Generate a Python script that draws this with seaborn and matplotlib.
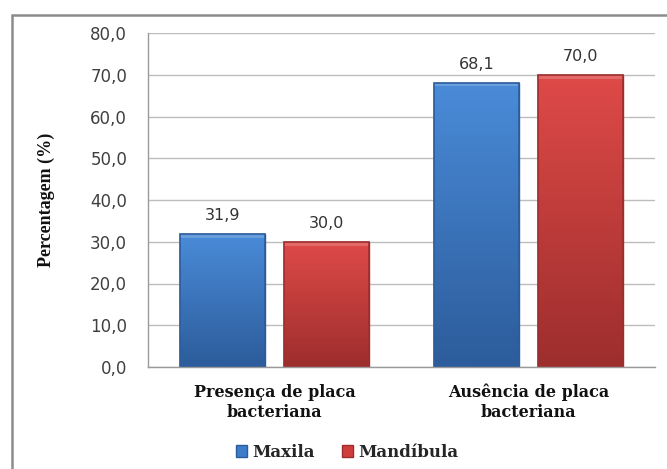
import numpy as np
import pandas as pd
import matplotlib
matplotlib.use("Agg")
import matplotlib.pyplot as plt
import matplotlib.patches as mpatches
from matplotlib.lines import Line2D
from matplotlib.colors import LinearSegmentedColormap
import seaborn as sns

categories = ["Presença de placa\nbacteriana", "Ausência de placa\nbacteriana"]
series = ["Maxila", "Mandíbula"]
maxila = [31.9, 68.1]
mandibula = [30.0, 70.0]
yticks = [0, 10, 20, 30, 40, 50, 60, 70, 80]

df = pd.DataFrame({
    "categoria": categories * 2,
    "grupo": [series[0]] * 2 + [series[1]] * 2,
    "valor": maxila + mandibula,
})

sns.set_theme(style="white")
plt.rcParams["font.family"] = ["DejaVu Sans"]

base = {"Maxila": "#3d7cc9", "Mandíbula": "#cf3d3c"}
grad = {
    "Maxila": ("#4a8bd8", "#2c5c9b"),
    "Mandíbula": ("#de4a48", "#9d2e2d"),
}

fig = plt.figure(figsize=(6.67, 4.69), dpi=100)
ax = fig.add_axes([148 / 667, 1 - 367 / 469, (655 - 148) / 667, (367 - 33) / 469])

sns.barplot(data=df, x="categoria", y="valor", hue="grupo", order=categories,
            hue_order=series, palette=base, width=0.82, gap=0.183,
            saturation=1, ax=ax, legend=False)

ax.set_xlim(-0.5, 1.5)
ax.set_ylim(0, 80)
ax.set_yticks(yticks)
ax.set_yticklabels([f"{v:.1f}".replace(".", ",") for v in yticks],
                   fontsize=12, color="#404040")
ax.tick_params(axis="y", length=0, pad=15)
ax.tick_params(axis="x", length=0, pad=12)
ax.set_xticks(range(len(categories)))
ax.set_xticklabels(categories, family="DejaVu Serif", fontweight="bold",
                   fontsize=11.5, color="#111111", linespacing=1.25)
ax.yaxis.grid(True, color="#bdbdbd", linewidth=1)
ax.set_axisbelow(True)
for side in ["top", "right"]:
    ax.spines[side].set_visible(False)
for side in ["left", "bottom"]:
    ax.spines[side].set_color("#9a9a9a")
    ax.spines[side].set_linewidth(1)
ax.set_xlabel("")
ax.set_ylabel("Percentagem (%)", family="Liberation Serif", fontweight="bold",
              fontsize=13, color="#111111", labelpad=25)

# vertical gradient fill with a darker rim and a light top bevel on each bar
bars = [p for p in ax.patches if isinstance(p, mpatches.Rectangle)]
for i, bar in enumerate(bars):
    name = series[i // len(categories)]
    top, bottom = grad[name]
    cmap = LinearSegmentedColormap.from_list(name, [bottom, top])
    x0, y0 = bar.get_x(), bar.get_y()
    w, h = bar.get_width(), bar.get_height()
    img = ax.imshow(np.linspace(0, 1, 100).reshape(-1, 1), cmap=cmap,
                    extent=[x0, x0 + w, y0, y0 + h], origin="lower",
                    aspect="auto", zorder=bar.get_zorder() + 0.1)
    img.set_clip_path(bar)
    ax.add_patch(mpatches.Rectangle((x0, y0 + h - 0.9), w, 0.9, facecolor="white",
                                    alpha=0.18, linewidth=0,
                                    zorder=bar.get_zorder() + 0.15))
    bar.set_edgecolor(bottom)
    bar.set_linewidth(1)
    ax.add_patch(mpatches.Rectangle((x0, y0), w, h, fill=False,
                                    edgecolor=bottom, linewidth=1.2,
                                    zorder=bar.get_zorder() + 0.2))

for container in ax.containers:
    ax.bar_label(container, labels=[f"{v:.1f}".replace(".", ",") for v in container.datavalues],
                 padding=8, fontsize=11.5, color="#333333")

ax.set_xlim(-0.5, 1.5)
ax.set_ylim(0, 80)

handles = [mpatches.Patch(facecolor=base[s], edgecolor=grad[s][1], label=s) for s in series]
fig.legend(handles=handles, loc="center", bbox_to_anchor=(347 / 667, 1 - 452 / 469),
           ncol=2, frameon=False, handlelength=0.7, handleheight=0.7,
           handletextpad=0.3, columnspacing=1.6,
           prop={"family": "DejaVu Serif", "weight": "bold", "size": 12})

# outer chart-area border: only its left and top edges fall inside the image
border_x, border_y = 12 / 667, 1 - 15 / 469
fig.add_artist(Line2D([border_x, border_x, 1.05], [-0.05, border_y, border_y],
                      transform=fig.transFigure, color="#8c8c8c", linewidth=1.8,
                      solid_joinstyle="miter"))

fig.savefig("out.png", dpi=100)
